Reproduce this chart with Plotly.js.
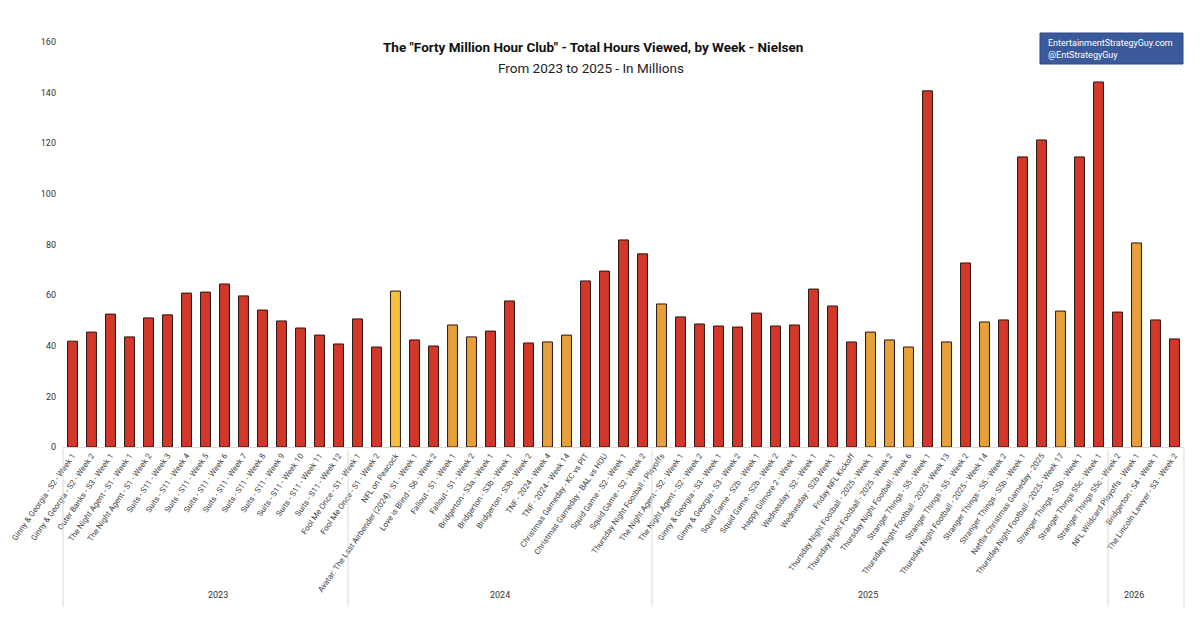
<!DOCTYPE html>
<html>
<head>
<meta charset="utf-8">
<script src="https://cdn.plot.ly/plotly-3.0.1.min.js"></script>
<style>html,body{margin:0;padding:0;background:#fff;}#chart{width:1200px;height:629px;}</style>
</head>
<body>
<div id="chart"></div>
<script>
const titles = [
  "Ginny & Georgia - S2 - Week 1","Ginny & Georgia - S2 - Week 2","Outer Banks - S3 - Week 1",
  "The Night Agent - S1 - Week 1","The Night Agent - S1 - Week 2","Suits - S11 - Week 3",
  "Suits - S11 - Week 4","Suits - S11 - Week 5","Suits - S11 - Week 6","Suits - S11 - Week 7",
  "Suits - S11 - Week 8","Suits - S11 - Week 9","Suits - S11 - Week 10","Suits - S11 - Week 11",
  "Suits - S11 - Week 12",
  "Fool Me Once - S1 - Week 1","Fool Me Once - S1 - Week 2","NFL on Peacock",
  "Avatar: The Last Airbender (2024) - S1 - Week 1","Love is Blind - S6 - Week 2",
  "Fallout - S1 - Week 1","Fallout - S1 - Week 2","Bridgerton - S3a - Week 1",
  "Bridgerton - S3b - Week 1","Bridgerton - S3b - Week 2","TNF - 2024 - Week 4","TNF - 2024 - Week 14",
  "Christmas Gameday - KC vs PIT","Christmas Gameday - BAL vs HOU","Squid Game - S2 - Week 1",
  "Squid Game - S2 - Week 2",
  "Thursday Night Football - Playoffs","The Night Agent - S2 - Week 1","The Night Agent - S2 - Week 2",
  "Ginny & Georgia - S3 - Week 1","Ginny & Georgia - S3 - Week 2","Squid Game - S2b - Week 1",
  "Squid Game - S2b - Week 2","Happy Gilmore 2 - Week 1","Wednesday - S2 - Week 1",
  "Wednesday - S2b Week 1","Friday NFL Kickoff","Thursday Night Football - 2025 - Week 1",
  "Thursday Night Football - 2025 - Week 2","Thursday Night Football - Week 6",
  "Stranger Things - S5 - Week 1","Thursday Night Football - 2025 - Week 13",
  "Stranger Things - S5 - Week 2","Thursday Night Football - 2025 - Week 14",
  "Stranger Things - S5 - Week 2","Stranger Things - S5b - Week 1","Netflix Christmas Gameday - 2025",
  "Thursday Night Football - 2025 - Week 17","Stranger Things - S5b - Week 1",
  "Stranger Things S5c - Week 1",
  "Stranger Things S5c - Week 2","NFL Wildcard Playoffs - Week 1","Bridgerton - S4 - Week 1",
  "The Lincoln Lawyer - S3 - Week 2"
];
const hours = [
  41.8,45.4,52.5,43.5,51.0,52.2,60.8,61.2,64.4,59.7,54.1,49.8,47.0,44.2,40.7,
  50.6,39.5,61.6,42.3,39.9,48.2,43.5,45.8,57.7,41.1,41.5,44.2,65.6,69.5,81.8,76.3,
  56.5,51.4,48.6,47.8,47.4,52.9,47.8,48.2,62.4,55.7,41.5,45.4,42.3,39.5,140.7,41.5,
  72.7,49.4,50.2,114.6,121.3,53.7,114.6,144.2,
  53.3,80.6,50.2,42.7
];
const platform = [
  "Netflix","Netflix","Netflix","Netflix","Netflix","Netflix","Netflix","Netflix","Netflix","Netflix",
  "Netflix","Netflix","Netflix","Netflix","Netflix",
  "Netflix","Netflix","Peacock","Netflix","Netflix","Prime","Prime","Netflix","Netflix","Netflix",
  "Prime","Prime","Netflix","Netflix","Netflix","Netflix",
  "Prime","Netflix","Netflix","Netflix","Netflix","Netflix","Netflix","Netflix","Netflix","Netflix",
  "Other","Prime","Prime","Prime","Netflix","Prime","Netflix","Prime","Netflix","Netflix","Netflix",
  "Prime","Netflix","Netflix",
  "Netflix","Prime","Netflix","Netflix"
];
const years = ["2023","2024","2025","2026"];
const yearCounts = [15,16,24,4];
const yTicks = [0,20,40,60,80,100,120,140,160];

(function () {
  const FONT = "Roboto, Liberation Sans, sans-serif";
  const palette = {Netflix:"#D2382A", Other:"#D2382A", Prime:"#E8A03C", Peacock:"#F4C141"};
  const idx = titles.map((_, i) => i);
  const n = titles.length;

  const trace = {
    type: "bar",
    x: idx,
    y: hours,
    marker: {color: platform.map(p => palette[p]), line: {color: "#2a1510", width: 1}},
    width: 0.52,
    hoverinfo: "text",
    text: titles.map((t, i) => t + ": " + hours[i]),
    textposition: "none"
  };

  const pL = 63, pR = 1184, pT = 42, pB = 447;
  const plotW = pR - pL, plotH = pB - pT;
  const px2x = p => (p - pL) / plotW;
  const px2y = p => (pB - p) / plotH;

  const shapes = [];
  const annotations = [];
  let start = 0;
  const bounds = [-0.5];
  yearCounts.forEach((c, k) => {
    const end = start + c;
    bounds.push(end - 0.5);
    annotations.push({
      xref: "paper", yref: "paper",
      x: ((start + end) / 2) / n, y: px2y(602),
      text: years[k], showarrow: false,
      font: {family: FONT, size: 9, color: "#333"}
    });
    start = end;
  });
  bounds.forEach(b => {
    shapes.push({
      type: "line", xref: "paper", yref: "paper",
      x0: (b + 0.5) / n, x1: (b + 0.5) / n, y0: px2y(449), y1: px2y(607),
      line: {color: "#d9d9d9", width: 1}
    });
  });

  shapes.push({
    type: "rect", xref: "paper", yref: "paper",
    x0: px2x(1040), x1: px2x(1183), y0: px2y(64), y1: px2y(33),
    fillcolor: "#3B5A9C", line: {color: "#2F4A85", width: 1}
  });
  annotations.push({
    xref: "paper", yref: "paper", x: px2x(1046), y: px2y(43), xanchor: "left", yanchor: "middle",
    text: "EntertainmentStrategyGuy.com", showarrow: false,
    font: {family: FONT, size: 9, color: "#fff"}
  });
  annotations.push({
    xref: "paper", yref: "paper", x: px2x(1046), y: px2y(55), xanchor: "left", yanchor: "middle",
    text: "@EntStrategyGuy", showarrow: false,
    font: {family: FONT, size: 9, color: "#fff"}
  });
  annotations.push({
    xref: "paper", yref: "paper", x: px2x(593), y: px2y(47), xanchor: "center", yanchor: "middle",
    text: "<b>The \"Forty Million Hour Club\" - Total Hours Viewed, by Week - Nielsen</b>", showarrow: false,
    font: {family: FONT, size: 13.5, color: "#111"}
  });
  annotations.push({
    xref: "paper", yref: "paper", x: px2x(591), y: px2y(68), xanchor: "center", yanchor: "middle",
    text: "From 2023 to 2025 - In Millions", showarrow: false,
    font: {family: FONT, size: 13.5, color: "#222"}
  });

  const layout = {
    width: 1200, height: 629,
    margin: {l: pL, r: 1200 - pR, t: pT, b: 629 - pB, pad: 0},
    paper_bgcolor: "#fff", plot_bgcolor: "#fff",
    showlegend: false,
    xaxis: {
      range: [-0.5, n - 0.5],
      tickmode: "array", tickvals: idx, ticktext: titles,
      tickangle: -55,
      tickfont: {family: FONT, size: 8, color: "#444"},
      showline: true, linecolor: "#d9d9d9", linewidth: 1,
      showgrid: false, zeroline: false, ticks: ""
    },
    yaxis: {
      range: [0, 160], tickmode: "array", tickvals: yTicks,
      tickfont: {family: FONT, size: 9, color: "#333"},
      showgrid: false, zeroline: false, showline: false, ticks: "",
      ticklabelstandoff: 6
    },
    shapes: shapes,
    annotations: annotations
  };

  Plotly.newPlot("chart", [trace], layout, {displayModeBar: false, staticPlot: true});
})();
</script>
</body>
</html>
